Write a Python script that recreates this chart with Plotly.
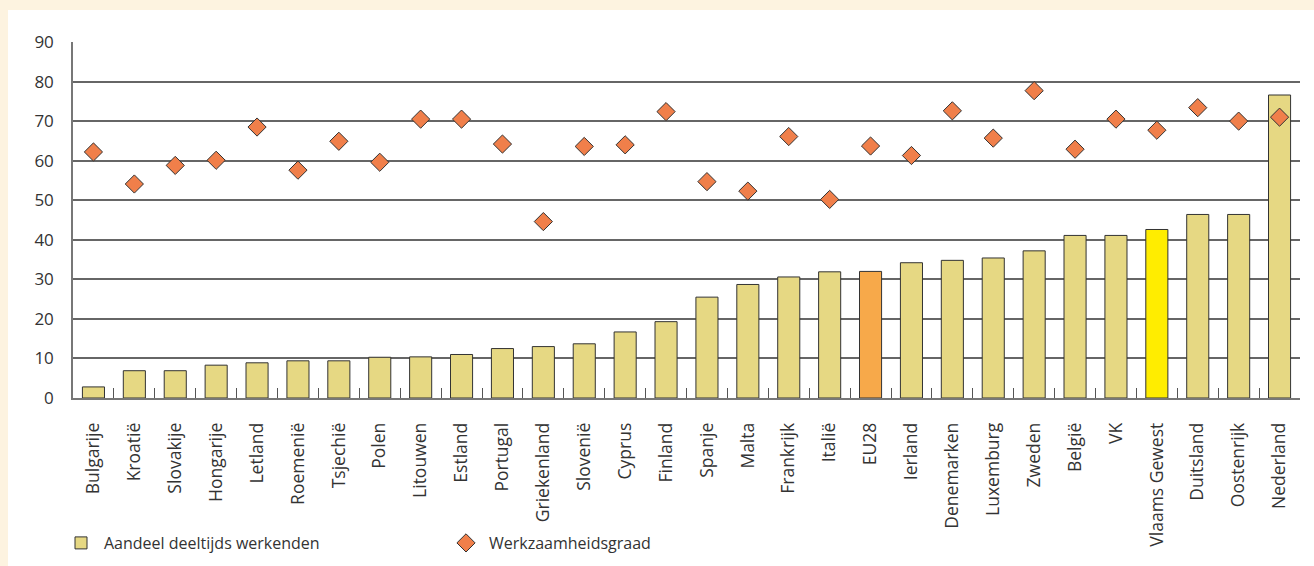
import plotly.graph_objects as go

landen = ["Bulgarije", "Kroatië", "Slovakije", "Hongarije", "Letland", "Roemenië",
          "Tsjechië", "Polen", "Litouwen", "Estland", "Portugal", "Griekenland",
          "Slovenië", "Cyprus", "Finland", "Spanje", "Malta", "Frankrijk", "Italië",
          "EU28", "Ierland", "Denemarken", "Luxemburg", "Zweden", "België", "VK",
          "Vlaams Gewest", "Duitsland", "Oostenrijk", "Nederland"]

deeltijds = [2.8, 6.9, 6.9, 8.3, 8.9, 9.4, 9.4, 10.3, 10.4, 11.0, 12.5, 13.0,
             13.7, 16.7, 19.3, 25.5, 28.7, 30.6, 31.9, 32.0, 34.2, 34.8, 35.4,
             37.2, 41.1, 41.1, 42.6, 46.4, 46.4, 76.6]

werkzaamheid = [62.2, 54.1, 58.8, 60.1, 68.5, 57.6, 64.9, 59.6, 70.5, 70.5, 64.2,
                44.6, 63.6, 64.0, 72.4, 54.7, 52.3, 66.1, 50.2, 63.7, 61.3, 72.6,
                65.7, 77.7, 62.9, 70.5, 67.7, 73.4, 70.0, 71.0]

BAR = "#e6d883"
bar_colors = []
for land in landen:
    if land == "EU28":
        bar_colors.append("#f7a94a")
    elif land == "Vlaams Gewest":
        bar_colors.append("#ffed00")
    else:
        bar_colors.append(BAR)

fig = go.Figure()
fig.add_trace(go.Bar(
    x=landen, y=deeltijds,
    name="Aandeel deeltijds werkenden",
    marker=dict(color=bar_colors, line=dict(color="#333333", width=1)),
))
fig.add_trace(go.Scatter(
    x=landen, y=werkzaamheid,
    mode="markers",
    name="Werkzaamheidsgraad",
    marker=dict(symbol="diamond", size=14, color="#f07f4a",
                line=dict(color="#333333", width=1)),
))

# white panel on the cream page (plot area: 73..1300 x 42..398 px)
fig.add_shape(type="rect", xref="paper", yref="paper",
              x0=(8 - 73) / 1227, x1=1.2,
              y0=-1.0, y1=(398 - 10) / 356,
              fillcolor="white", line_width=0, layer="below")

fig.update_layout(
    width=1314, height=566,
    paper_bgcolor="#fdf3e0",
    plot_bgcolor="white",
    font=dict(family="Open Sans", color="#333333", size=16),
    margin=dict(l=73, r=14, t=42, b=168),
    bargap=0.46,
    showlegend=True,
    legend=dict(
        orientation="h",
        xref="container", yref="container",
        x=58 / 1314, y=(566 - 543) / 566, xanchor="left", yanchor="middle",
        itemwidth=36,
        entrywidth=334, entrywidthmode="pixels",
        bgcolor="rgba(0,0,0,0)",
        font=dict(size=16, color="#333333"),
    ),
    xaxis=dict(
        range=[-0.5, 29.5],
        automargin=False,
        tickangle=-90,
        tickfont=dict(size=17.5),
        ticks="inside", ticklen=10, tickcolor="#555555",
        tickson="boundaries",
        ticklabelstandoff=16,
        showline=True, linecolor="#777777", linewidth=1.5,
        showgrid=False,
    ),
    yaxis=dict(
        range=[0, 90], dtick=10,
        automargin=False,
        tickfont=dict(size=17),
        showgrid=True, gridcolor="#666666", gridwidth=1.5,
        showline=True, linecolor="#777777", linewidth=1.5,
        zeroline=False,
        ticks="", ticklabelstandoff=14,
    ),
)

fig.write_html("out.html", config={"displayModeBar": False},
               post_script="document.body.style.margin='0';")
